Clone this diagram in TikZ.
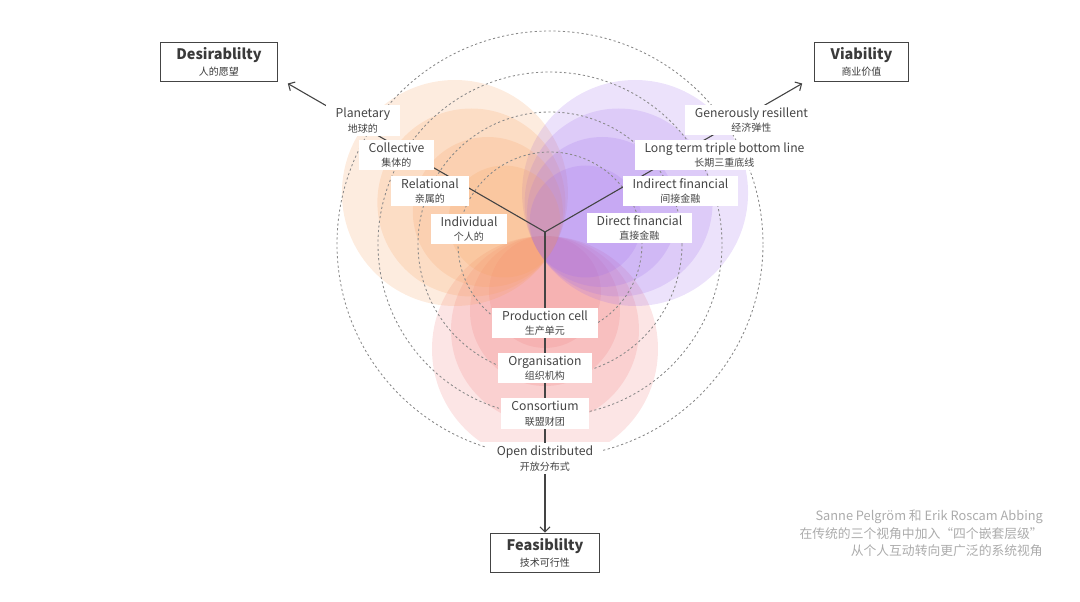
\documentclass[tikz,border=0pt]{standalone}
\usepackage{fontspec}
\setmainfont{Noto Sans CJK SC}
\usepackage{tikz}
\usetikzlibrary{arrows.meta, calc}

\definecolor{ink}{HTML}{444444}
\definecolor{dashgray}{HTML}{888888}
\definecolor{notegray}{HTML}{ABABAB}
\definecolor{blobA}{RGB}{247,160,95}
\definecolor{blobB}{RGB}{160,110,235}
\definecolor{blobC}{RGB}{240,125,125}

\tikzset{
  layer/.style={fill=white, inner xsep=10pt, inner ysep=2.8pt, align=center, text=ink,
    font=\fontsize{12.2}{14.5}\selectfont},
  lens/.style={draw=ink, line width=0.8pt, fill=white, inner xsep=16pt, inner ysep=5pt,
    align=center, text=ink!85!black, font=\fontsize{14.5}{16}\selectfont\bfseries},
  ring/.style={draw=dashgray, line width=0.85pt, dash pattern=on 2.2pt off 2.5pt},
  spoke/.style={draw=ink, line width=1.1pt},
}
\newcommand{\zh}[1]{{\fontsize{10}{14.5}\selectfont\mdseries #1}}

\begin{document}
\begin{tikzpicture}[x=1pt, y=1pt]
\useasboundingbox (-545,-370) rectangle (535,232);

% The three lenses
\node[lens] (desir) at (-326,170) {Desirablilty\\\zh{人的愿望}};
\node[lens] (viab) at (316.5,170) {Viability\\\zh{商业价值}};
\node[lens] (feas) at (0,-320.5) {Feasiblilty\\\zh{技术可行性}};

\coordinate (hub) at (0,0);
\coordinate (mid) at (0,-13);
\coordinate (ringc) at (5,-12);
\coordinate (dtip) at (150:297);
\coordinate (vtip) at (30:297);

% Overlapping petals, each a stack of circles touching near the middle
\begin{scope}
\clip (-545,-210) rectangle (535,232);
\foreach \r in {113,94,75,56}{
  \pgfmathsetmacro{\d}{\r-9}
  \fill[blobC, fill opacity=0.2] (mid) ++(270:\d) circle[radius=\r];
}
\foreach \r in {113,94,75,56}
  \foreach \a/\c in {150/blobA,30/blobB}{
    \pgfmathsetmacro{\d}{\r-9}
    \fill[\c, fill opacity=0.2] (mid) ++(\a:\d) circle[radius=\r];
  }
\end{scope}

% Nested levels
\foreach \r in {92,132,172,213}
  \draw[ring] (ringc) circle[radius=\r];

% Spokes out to the lenses
\draw[spoke, -{Straight Barb[length=5pt,width=10pt]}] (hub) -- (dtip);
\draw[spoke, -{Straight Barb[length=5pt,width=10pt]}] (hub) -- (vtip);
\draw[spoke, -{Straight Barb[length=5pt,width=10pt]}] (hub) -- (feas);

% Desirability levels
\node[layer] (planet) at (-182,111.5) {Planetary\\\zh{地球的}};
\node[layer] (collect) at (-148.5,77) {Collective\\\zh{集体的}};
\node[layer] (relat) at (-115,41) {Relational\\\zh{亲属的}};
\node[layer] (indiv) at (-76,3) {Individual\\\zh{个人的}};

% Viability levels
\node[layer] (resil) at (206.5,112) {Generously resillent\\\zh{经济弹性}};
\node[layer] (triple) at (179.5,77) {Long term triple bottom line\\\zh{长期三重底线}};
\node[layer] (indir) at (135.5,41) {Indirect financial\\\zh{间接金融}};
\node[layer] (direct) at (94.5,4) {Direct financial\\\zh{直接金融}};

% Feasibility levels
\node[layer] (cell) at (0,-91) {Production cell\\\zh{生产单元}};
\node[layer] (organ) at (0,-136) {Organisation\\\zh{组织机构}};
\node[layer] (consort) at (0,-181.5) {Consortium\\\zh{联盟财团}};
\node[layer] (opendist) at (0,-226.5) {Open distributed\\\zh{开放分布式}};

% Source note
\node[anchor=east, inner sep=0pt, align=right, text=notegray, font=\fontsize{12.8}{17.5}\selectfont]
  (note) at (498,-301.5) {Sanne Pelgröm 和 Erik Roscam Abbing\\在传统的三个视角中加入“四个嵌套层级”\\从个人互动转向更广泛的系统视角};
\end{tikzpicture}
\end{document}
